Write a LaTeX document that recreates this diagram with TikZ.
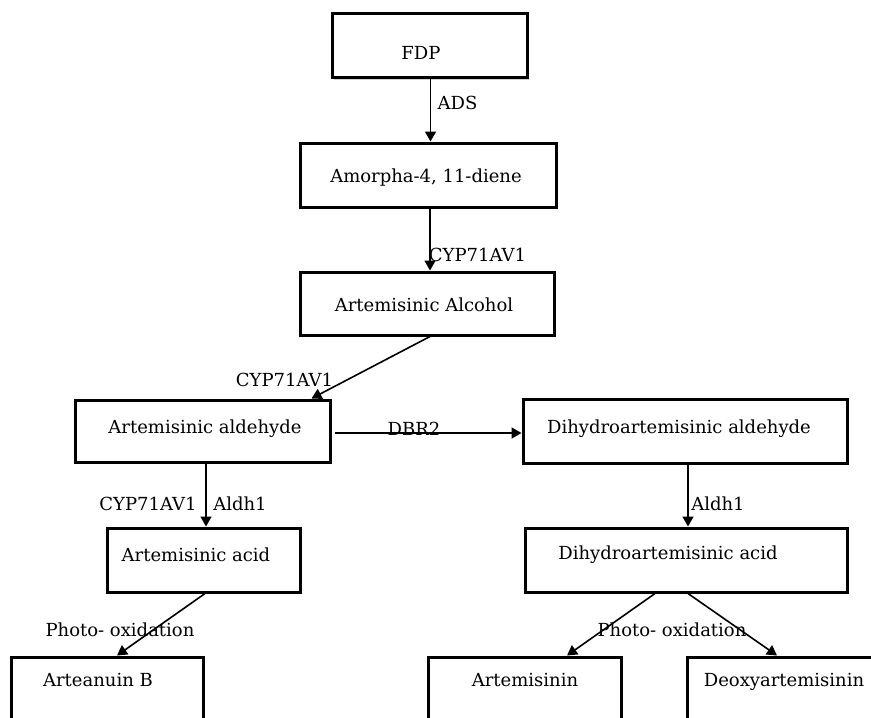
\documentclass[tikz,border=0pt]{standalone}
\usepackage{fontspec}
\setmainfont{DejaVu Serif}
\usetikzlibrary{arrows.meta,calc,shadows}
\begin{document}
\begin{tikzpicture}[x=0.5pt,y=-0.5pt,
  font=\fontsize{9pt}{11pt}\selectfont,
  bx/.style 2 args={draw=black, fill=white, line width=1.5pt, inner sep=0pt,
    minimum width=#1*0.5pt, minimum height=#2*0.5pt,
    drop shadow={shadow xshift=1.2pt, shadow yshift=-1.2pt, fill=black, opacity=0.18}},
  txt/.style={inner sep=0pt, text=black},
  lbl/.style={inner sep=0pt, text=black},
  arr/.style={draw=black, line width=0.8pt, -{Triangle[length=5pt,width=5.5pt]}}]
\useasboundingbox (0,0) rectangle (871,717);
\clip (0,0) rectangle (871,717);

% boxes
\node[bx={195}{64}] (fdp)  at (429.5,46) {};
\node[bx={256}{64}] (amo)  at (428,175) {};
\node[bx={254}{63}] (alc)  at (427,303.5) {};
\node[bx={255}{62}] (ald)  at (202.5,431) {};
\node[bx={324}{64}] (dald) at (685,431) {};
\node[bx={193}{64}] (acid) at (203.5,560) {};
\node[bx={322}{64}] (dacid) at (686,560) {};
\node[bx={192}{64}] (artb) at (107,689) {};
\node[bx={193}{64}] (arts) at (524.5,689) {};
\node[bx={193}{64}] (deoxy) at (783.5,689) {};

% box texts
\node[txt] (tfdp)  at (421,53) {FDP};
\node[txt] (tamo)  at (426,178) {Amorpha-4, 11-diene};
\node[txt] (talc)  at (424,305) {Artemisinic Alcohol};
\node[txt] (tald)  at (205,429) {Artemisinic aldehyde};
\node[txt] (tdald) at (679,429) {Dihydroartemisinic aldehyde};
\node[txt] (tacid) at (196,555) {Artemisinic acid};
\node[txt] (tdacid) at (668,555) {Dihydroartemisinic acid};
\node[txt] (tartb) at (98,680) {Arteanuin B};
\node[txt] (tarts) at (525,680) {Artemisinin};
\node[txt] (tdeoxy) at (784,682) {Deoxyartemisinin};

% connectors
\draw[arr] ($(fdp.south)+(1,0)$) -- ($(fdp.south |- amo.north)+(1,0)$);
\draw[arr] ($(amo.south)+(2,0)$) -- ($(amo.south |- alc.north)+(2,0)$);
\draw[arr] ($(alc.south)+(3,0)$) -- ($(ald.north east)+(-20,0)$);
\draw[arr] ($(ald.east)+(3,2)$) -- ($(ald.east -| dald.west)+(0,2)$);
\draw[arr] ($(ald.south)+(3.5,0)$) -- ($(ald.south |- acid.north)+(3.5,0)$);
\draw[arr] ($(acid.south)+(1.5,0)$) -- ($(artb.north)+(10,0)$);
\draw[arr] ($(dald.south)+(3,0)$) -- ($(dald.south |- dacid.north)+(3,0)$);
\draw[arr] ($(dacid.south)+(-31,0)$) -- ($(arts.north)+(42.5,0)$);
\draw[arr] ($(dacid.south)+(2,0)$) -- ($(deoxy.north)+(-6.5,0)$);

% connector labels
\node[lbl] (lads)  at (457.5,103) {ADS};
\node[lbl] (lcyp1) at (477.5,255) {CYP71AV1};
\node[lbl] (lcyp2) at (284.5,380) {CYP71AV1};
\node[lbl] (ldbr)  at (414,429) {DBR2};
\node[lbl] (lcyp3) at (148,504) {CYP71AV1};
\node[lbl] (lald1) at (240,504) {Aldh1};
\node[lbl] (lald2) at (718,504) {Aldh1};
\node[lbl] (lph1)  at (120,630) {Photo- oxidation};
\node[lbl] (lph2)  at (672,630) {Photo- oxidation};
\end{tikzpicture}
\end{document}
